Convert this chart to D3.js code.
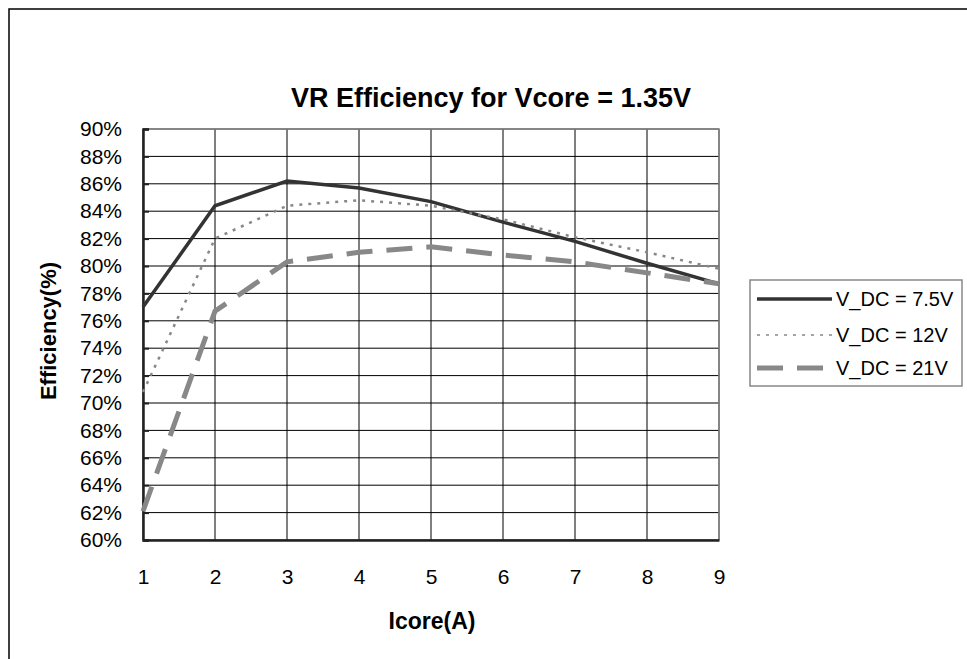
<!DOCTYPE html>
<html>
<head>
<meta charset="utf-8">
<script src="https://cdn.jsdelivr.net/npm/d3@7/dist/d3.min.js"></script>
<style>
  body { margin: 0; background: #fff; }
  text { font-family: "Liberation Sans", Arial, sans-serif; fill: #000; }
</style>
</head>
<body>
<script>
// data
var icore = [1, 2, 3, 4, 5, 6, 7, 8, 9];
var eff75 = [77.0, 84.4, 86.2, 85.7, 84.7, 83.2, 81.8, 80.2, 78.7];
var eff12 = [70.8, 82.0, 84.4, 84.8, 84.4, 83.4, 82.1, 81.0, 79.8];
var eff21 = [62.1, 76.7, 80.3, 81.0, 81.4, 80.8, 80.3, 79.5, 78.7];
var seriesNames = ["V_DC = 7.5V", "V_DC = 12V", "V_DC = 21V"];
var yTicks = d3.range(60, 91, 2);

var width = 967, height = 659;
var plotLeft = 143, plotRight = 719, plotTop = 129, plotBottom = 540;

var svg = d3.select("body").append("svg")
    .attr("width", width)
    .attr("height", height);

// outer frame (cut off at right / bottom like the reference)
svg.append("rect")
    .attr("x", 9).attr("y", 9)
    .attr("width", 1200).attr("height", 1200)
    .attr("fill", "none").attr("stroke", "#000").attr("stroke-width", 1.5);

var x = d3.scaleLinear().domain([1, 9]).range([plotLeft, plotRight]);
var y = d3.scaleLinear().domain([60, 90]).range([plotBottom, plotTop]);

// grid
var grid = svg.append("g");
grid.selectAll(".hg").data(yTicks).enter().append("line")
    .attr("x1", plotLeft).attr("x2", plotRight)
    .attr("y1", d => y(d)).attr("y2", d => y(d))
    .attr("stroke", "#000").attr("stroke-width", 1);
grid.selectAll(".vg").data(icore).enter().append("line")
    .attr("x1", d => x(d)).attr("x2", d => x(d))
    .attr("y1", plotTop).attr("y2", plotBottom)
    .attr("stroke", "#000").attr("stroke-width", 1);

// top/right border in grey
svg.append("path")
    .attr("d", `M${plotLeft},${plotTop}H${plotRight}V${plotBottom}`)
    .attr("fill", "none").attr("stroke", "#888").attr("stroke-width", 1.5);

// y axis
var yAxis = svg.append("g")
    .attr("transform", `translate(${plotLeft},0)`)
    .call(d3.axisLeft(y).tickValues(yTicks).tickSize(-6).tickPadding(21)
        .tickFormat(d => d + "%"));
yAxis.select(".domain").attr("stroke", "#222").attr("stroke-width", 2.5);
yAxis.selectAll(".tick line").attr("stroke", "#222").attr("stroke-width", 2);
yAxis.selectAll("text").attr("font-size", 21).attr("fill", "#000");

// x axis
var xAxis = svg.append("g")
    .attr("transform", `translate(0,${plotBottom})`)
    .call(d3.axisBottom(x).tickValues(icore).tickSize(0).tickPadding(29)
        .tickFormat(d3.format("d")));
xAxis.select(".domain").attr("stroke", "#222").attr("stroke-width", 2.5);
xAxis.selectAll("text").attr("font-size", 21).attr("fill", "#000");

// series
var styles = [
  { data: eff75, color: "#333", w: 3.5, dash: null },
  { data: eff12, color: "#888", w: 2.5, dash: "3,6" },
  { data: eff21, color: "#888", w: 5, dash: "26,14" }
];
var line = d3.line().x((d, i) => x(icore[i])).y(d => y(d));
styles.forEach(function(s) {
  svg.append("path")
      .datum(s.data)
      .attr("d", line)
      .attr("fill", "none")
      .attr("stroke", s.color)
      .attr("stroke-width", s.w)
      .attr("stroke-dasharray", s.dash);
});

// title
svg.append("text")
    .attr("x", 491).attr("y", 107)
    .attr("text-anchor", "middle")
    .attr("font-size", 27).attr("font-weight", "bold")
    .text("VR Efficiency for Vcore = 1.35V");

// axis titles
svg.append("text")
    .attr("x", 432).attr("y", 629)
    .attr("text-anchor", "middle")
    .attr("font-size", 23).attr("font-weight", "bold")
    .text("Icore(A)");
svg.append("text")
    .attr("transform", "translate(56,331) rotate(-90)")
    .attr("text-anchor", "middle")
    .attr("font-size", 22).attr("font-weight", "bold")
    .text("Efficiency(%)");

// legend
var legend = svg.append("g");
legend.append("rect")
    .attr("x", 750).attr("y", 280)
    .attr("width", 212).attr("height", 106)
    .attr("fill", "#fff").attr("stroke", "#888").attr("stroke-width", 1.5);
var rowY = [299, 335, 368];
styles.forEach(function(s, i) {
  legend.append("line")
      .attr("x1", 757).attr("x2", 832)
      .attr("y1", rowY[i]).attr("y2", rowY[i])
      .attr("stroke", s.color)
      .attr("stroke-width", i == 1 ? 1.5 : s.w)
      .attr("stroke-dasharray", s.dash);
  legend.append("text")
      .attr("x", 836).attr("y", rowY[i] + 7)
      .attr("font-size", 20)
      .text(seriesNames[i]);
});
</script>
</body>
</html>
